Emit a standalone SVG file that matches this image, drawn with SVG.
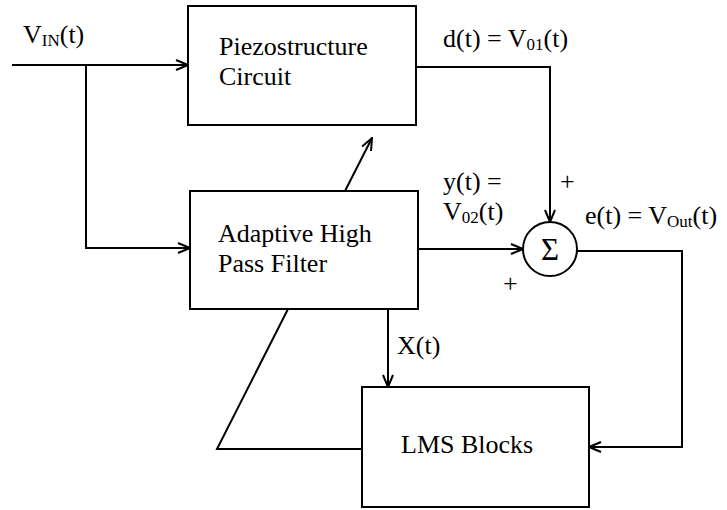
<svg xmlns="http://www.w3.org/2000/svg" width="727" height="510" viewBox="0 0 727 510">
<style>
.box{fill:#fff;stroke:#000;stroke-width:2}
.ln{fill:none;stroke:#000;stroke-width:2}
text{font-family:'Liberation Serif','Times New Roman','DejaVu Serif',serif;font-size:26px;fill:#000}
.sub{font-size:17px}
.sig{font-size:31px}
</style>
<defs>
<marker id="ah" viewBox="0 0 14 12" refX="13" refY="6" markerWidth="14" markerHeight="12" markerUnits="userSpaceOnUse" orient="auto">
<path d="M1,1 L13,6 L1,11" fill="none" stroke="#000" stroke-width="2"/>
</marker>
</defs>
<rect width="727" height="510" fill="#fff"/>
<g id="connectors">
<path class="ln" d="M12,65 H188" marker-end="url(#ah)"/>
<path class="ln" d="M86,65 V248 H190" marker-end="url(#ah)"/>
<path class="ln" d="M416,67 H550 V222" marker-end="url(#ah)"/>
<path class="ln" d="M345,191 L372,138" marker-end="url(#ah)"/>
<path class="ln" d="M418,249 H523" marker-end="url(#ah)"/>
<path class="ln" d="M577,251 H682 V447 H589" marker-end="url(#ah)"/>
<path class="ln" d="M388,309 V387" marker-end="url(#ah)"/>
<path class="ln" d="M288,309 L217,449 H362"/>
</g>
<g id="piezo">
<rect class="box" x="188" y="6" width="228" height="119"/>
<text x="219" y="55">Piezostructure</text>
<text x="219" y="85">Circuit</text>
</g>
<g id="ahpf">
<rect class="box" x="190" y="191" width="228" height="118"/>
<text x="218" y="242">Adaptive High</text>
<text x="218" y="272">Pass Filter</text>
</g>
<g id="sum">
<circle class="box" cx="550" cy="249" r="27"/>
<text class="sig" x="550" y="260" text-anchor="middle">Σ</text>
</g>
<g id="lms">
<rect class="box" x="362" y="387" width="227" height="120"/>
<text x="401" y="453">LMS Blocks</text>
</g>
<g id="labels">
<text x="23" y="43">V<tspan class="sub" dy="3">IN</tspan><tspan dy="-3">(t)</tspan></text>
<text x="443" y="47">d(t) = V<tspan class="sub" dy="3">01</tspan><tspan dy="-3">(t)</tspan></text>
<text x="443" y="190">y(t) =</text>
<text x="443" y="220">V<tspan class="sub" dy="3">02</tspan><tspan dy="-3">(t)</tspan></text>
<text x="585" y="224">e(t) = V<tspan class="sub" dy="3">Out</tspan><tspan dy="-3">(t)</tspan></text>
<text x="560" y="190">+</text>
<text x="503" y="292">+</text>
<text x="397" y="354">X(t)</text>
</g>
</svg>
